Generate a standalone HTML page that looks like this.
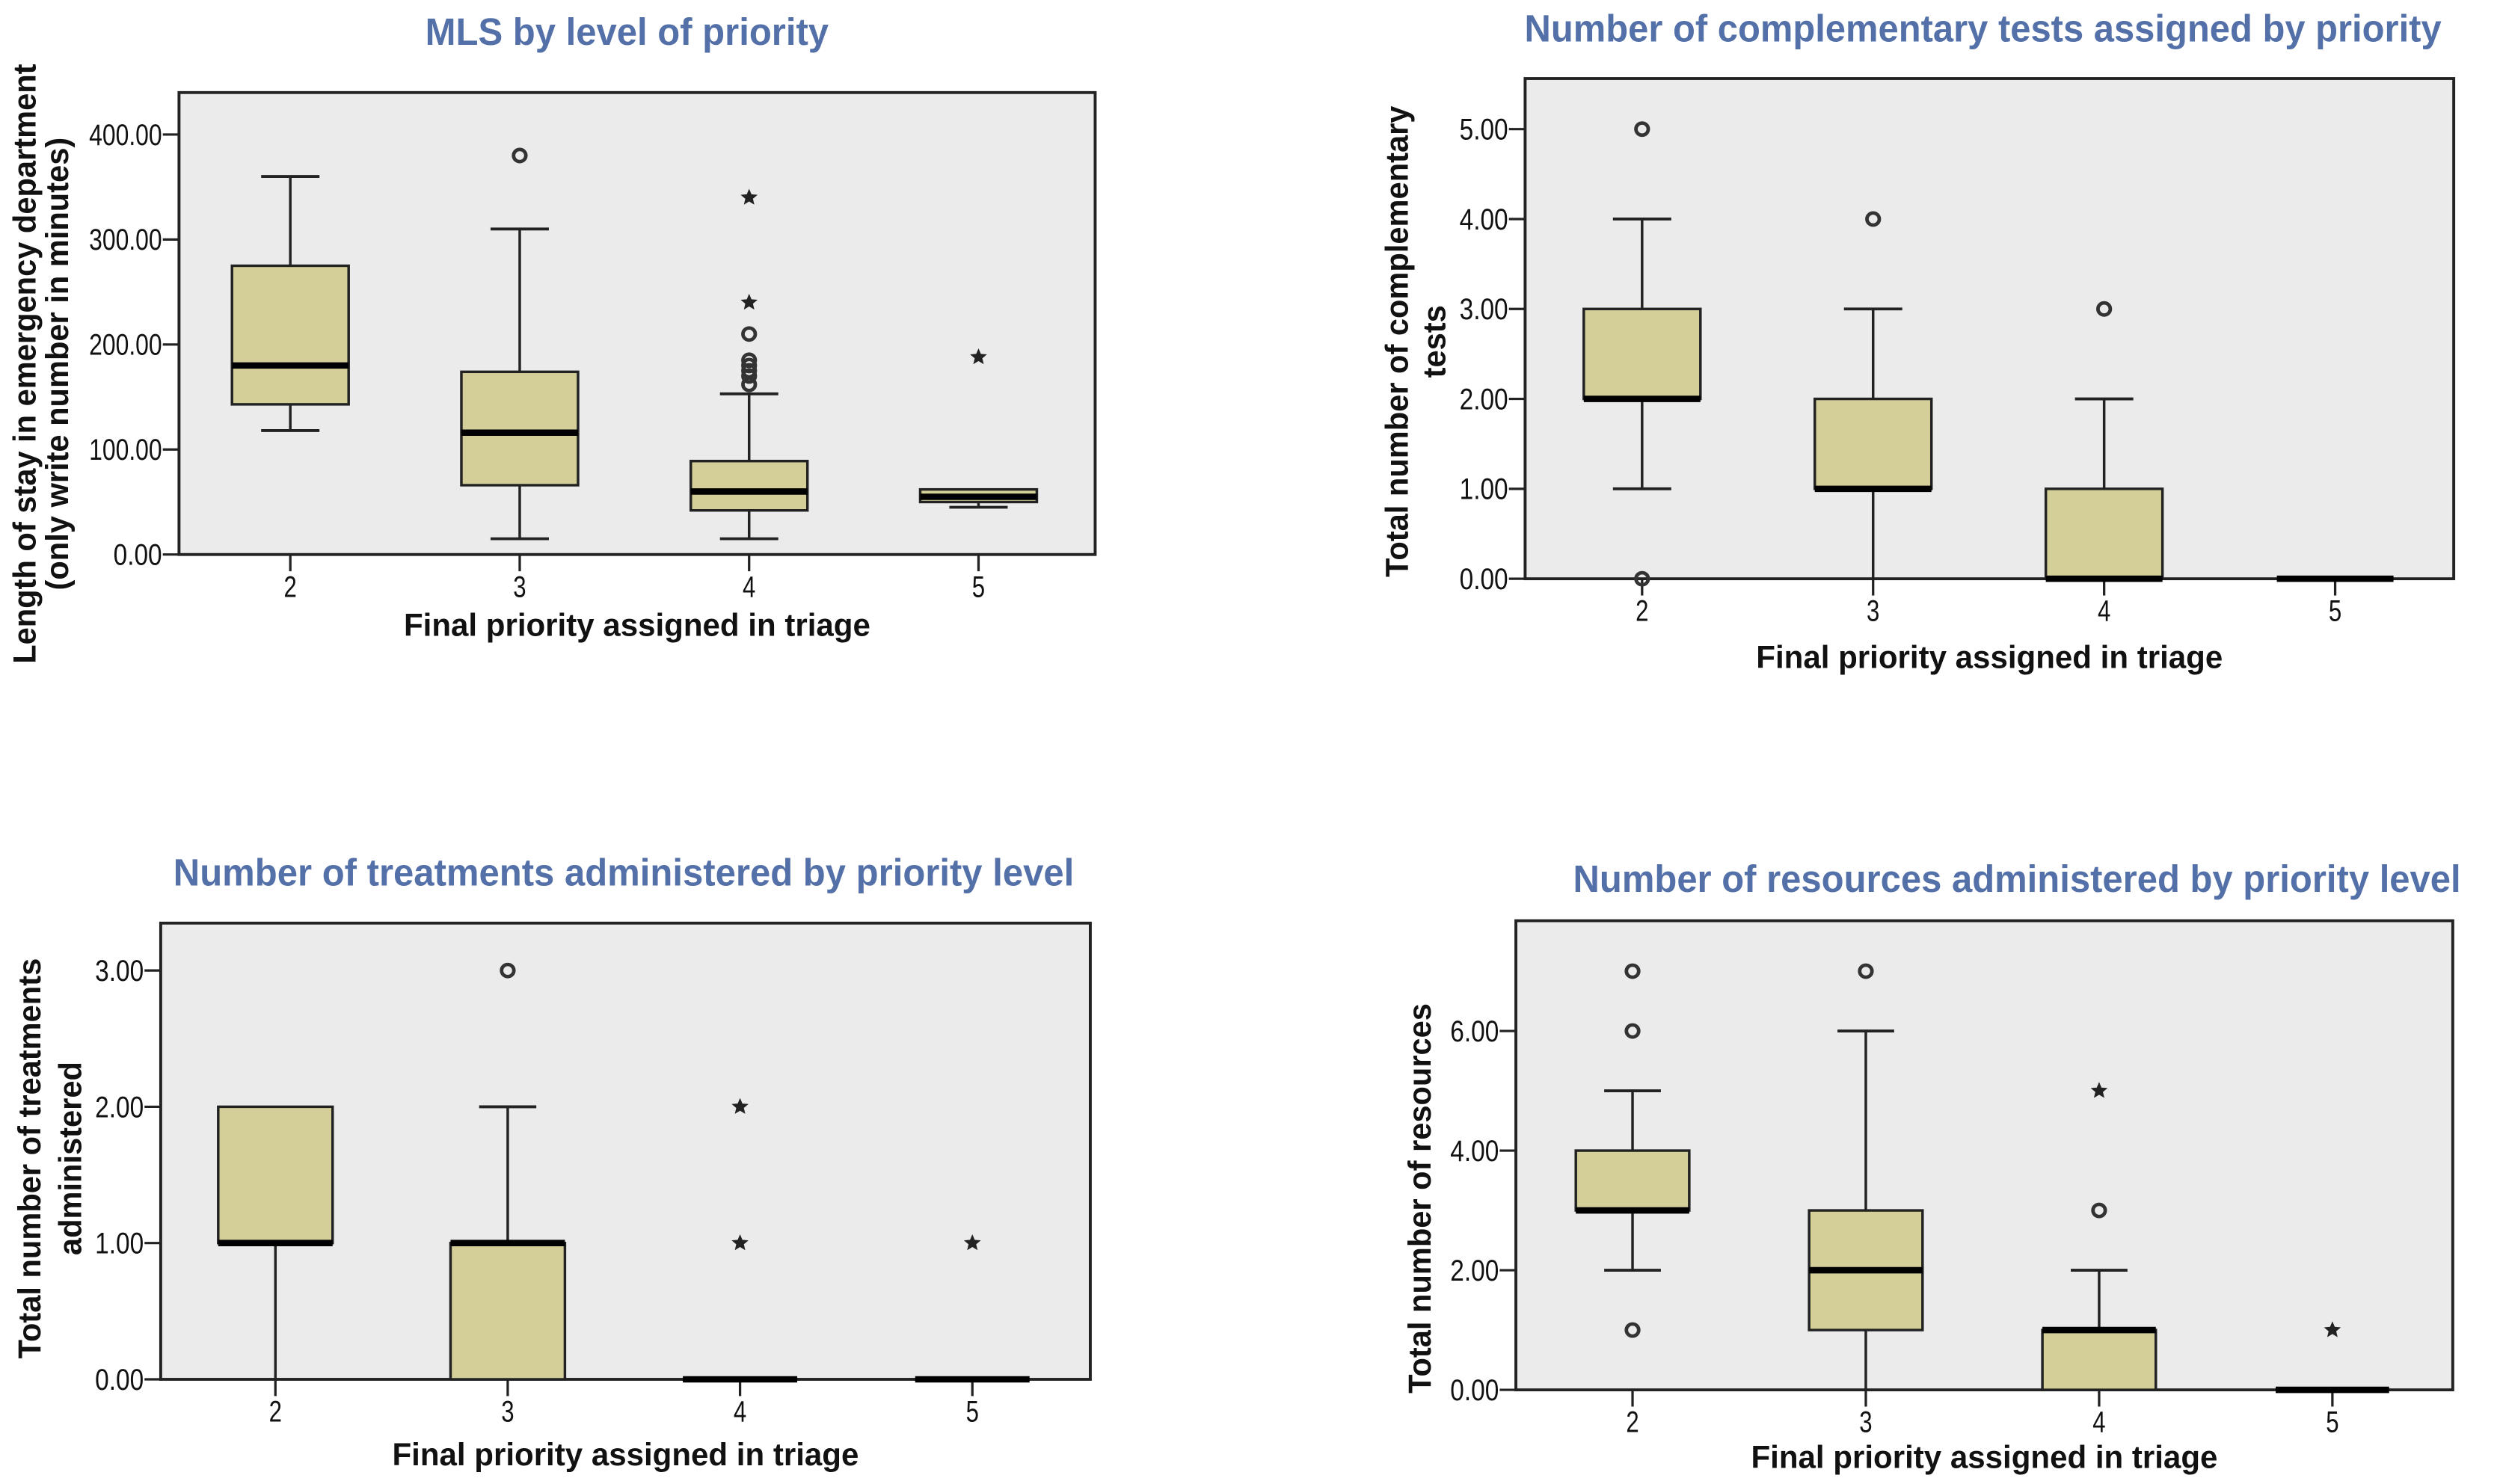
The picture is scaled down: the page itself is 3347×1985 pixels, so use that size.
<!DOCTYPE html>
<html><head><meta charset="utf-8"><style>
html,body{margin:0;padding:0;background:#fff;}
svg{display:block;}
text{font-family:"Liberation Sans",sans-serif;}
</style></head><body>
<svg id="fig" width="3347" height="1985" viewBox="0 0 1545 930" preserveAspectRatio="none" xmlns="http://www.w3.org/2000/svg"></svg>
<script>
const categories = ["2","3","4","5"];
// chart 1: MLS
const c1Low = [118, 15, 15, 45];
const c1Q1 = [143, 66, 42, 50];
const c1Med = [180, 116, 60, 55];
const c1Q3 = [275, 174, 89, 62];
const c1High = [360, 310, 153, 62];
const c1Circles = [[], [380], [210, 185, 180, 175, 170, 162], []];
const c1Stars = [[], [], [340, 240], [188]];
const c1Ticks = ["0.00","100.00","200.00","300.00","400.00"];
const c1TickVals = [0,100,200,300,400];
// chart 2: tests
const c2Low = [1, 0, 0, 0];
const c2Q1 = [2, 1, 0, 0];
const c2Med = [2, 1, 0, 0];
const c2Q3 = [3, 2, 1, 0];
const c2High = [4, 3, 2, 0];
const c2Circles = [[5, 0], [4], [3], []];
const c2Stars = [[], [], [], []];
const c2Ticks = ["0.00","1.00","2.00","3.00","4.00","5.00"];
const c2TickVals = [0,1,2,3,4,5];
// chart 3: treatments
const c3Low = [0, 0, 0, 0];
const c3Q1 = [1, 0, 0, 0];
const c3Med = [1, 1, 0, 0];
const c3Q3 = [2, 1, 0, 0];
const c3High = [2, 2, 0, 0];
const c3Circles = [[], [3], [], []];
const c3Stars = [[], [], [2, 1], [1]];
const c3Ticks = ["0.00","1.00","2.00","3.00"];
const c3TickVals = [0,1,2,3];
// chart 4: resources
const c4Low = [2, 0, 0, 0];
const c4Q1 = [3, 1, 0, 0];
const c4Med = [3, 2, 1, 0];
const c4Q3 = [4, 3, 1, 0];
const c4High = [5, 6, 2, 0];
const c4Circles = [[7, 6, 1], [7], [3], []];
const c4Stars = [[], [], [5], [1]];
const c4Ticks = ["0.00","2.00","4.00","6.00"];
const c4TickVals = [0,2,4,6];

const NS = "http://www.w3.org/2000/svg";
const fig = document.getElementById("fig");
function mk(tag, attrs, parent, txt){
  const e = document.createElementNS(NS, tag);
  for (const k in attrs) e.setAttribute(k, attrs[k]);
  if (txt !== undefined) e.textContent = txt;
  (parent || fig).appendChild(e);
  return e;
}
function starPath(cx, cy, r){
  let d = "";
  for (let i = 0; i < 10; i++){
    const a = -Math.PI/2 + i*Math.PI/5;
    const rr = i%2 ? r*0.45 : r;
    d += (i ? "L" : "M") + (cx + rr*Math.cos(a)).toFixed(2) + " " + (cy + rr*Math.sin(a)).toFixed(2);
  }
  return d + "Z";
}

function drawChart(cfg){
  const g = mk("g", {});
  
  
  const yScale = v => cfg.y0 - v * (cfg.y0 - cfg.yRef) / cfg.refVal;
  const xScale = i => cfg.cx0 + i * cfg.step;
  const t = mk("text", {x: cfg.titleX, y: cfg.titleY, "text-anchor":"middle", "font-size":24, "font-weight":"bold", fill:"#5470a8", textLength: cfg.titleW, lengthAdjust:"spacingAndGlyphs"}, g, cfg.title);
  
  
  const bg = mk("rect", {x: cfg.left, y: cfg.top, width: cfg.right - cfg.left, height: cfg.y0 - cfg.top, fill:"#ebebeb", stroke:"#222", "stroke-width":1.8}, g);
  
  
  cfg.tickVals.forEach((v, i) => {
    const y = yScale(v);
    mk("line", {x1: cfg.left - 10, x2: cfg.left, y1: y, y2: y, stroke:"#222", "stroke-width":1.5}, g);
    const s = cfg.ticks[i];
    const tl = mk("text", {x: cfg.left - 10.5, y: y + 6.5, "text-anchor":"end", "font-size":18.5, fill:"#111", textLength: s.length * 7.5, lengthAdjust:"spacingAndGlyphs"}, g, s);
    
    
  });
  categories.forEach((c, i) => {
    const x = xScale(i);
    mk("line", {x1: x, x2: x, y1: cfg.y0, y2: cfg.y0 + 10.5, stroke:"#222", "stroke-width":1.5}, g);
    const xl = mk("text", {x: x, y: cfg.y0 + 26.5, "text-anchor":"middle", "font-size":18.5, fill:"#111", textLength: 8, lengthAdjust:"spacingAndGlyphs"}, g, c);
    
    
  });
  const xt = mk("text", {x: (cfg.left + cfg.right)/2, y: cfg.y0 + cfg.xlOff, "text-anchor":"middle", "font-size":20, "font-weight":"bold", fill:"#111", textLength: 288, lengthAdjust:"spacingAndGlyphs"}, g, "Final priority assigned in triage");
  
  
  const yt = mk("text", {transform:`translate(${cfg.ylX},${cfg.ylY}) rotate(-90)`, "text-anchor":"middle", "font-size":19.5, "font-weight":"bold", fill:"#111"}, g);
  
  
  cfg.ylab.forEach((s, i) => mk("tspan", {x:0, y: i * cfg.ylSp}, yt, s));
  const hw = cfg.boxW / 2;
  categories.forEach((c, i) => {
    const x = xScale(i);
    const bx = mk("g", {}, g);
    
    
    const lo = yScale(cfg.low[i]), hi = yScale(cfg.high[i]), q1 = yScale(cfg.q1[i]), q3 = yScale(cfg.q3[i]), md = yScale(cfg.med[i]);
    mk("line", {x1:x, x2:x, y1:hi, y2:q3, stroke:"#222", "stroke-width":1.6}, bx);
    mk("line", {x1:x, x2:x, y1:q1, y2:lo, stroke:"#222", "stroke-width":1.6}, bx);
    if (cfg.high[i] > cfg.q3[i]) mk("line", {x1:x - hw/2, x2:x + hw/2, y1:hi, y2:hi, stroke:"#222", "stroke-width":1.8}, bx);
    if (cfg.low[i] < cfg.q1[i] && cfg.low[i] > 0) mk("line", {x1:x - hw/2, x2:x + hw/2, y1:lo, y2:lo, stroke:"#222", "stroke-width":1.8}, bx);
    mk("rect", {x:x - hw, y:q3, width:cfg.boxW, height:Math.max(q1 - q3, 0.01), fill:"#d4cf98", stroke:"#222", "stroke-width":1.6}, bx);
    mk("line", {x1:x - hw, x2:x + hw, y1:md, y2:md, stroke:"#000", "stroke-width":4}, bx);
    cfg.circles[i].forEach(v => {
      const o = mk("circle", {cx:x, cy:yScale(v), r:3.8, fill:"none", stroke:"#333", "stroke-width":2.2}, bx);
      
      
    });
    cfg.stars[i].forEach(v => {
      const s = mk("path", {d: starPath(x, yScale(v), 5.5), fill:"#222"}, bx);
      
      
    });
  });
}

drawChart({name:"chart-mls", title:"MLS by level of priority", titleX:387, titleY:28, titleW:249,
  left:110.5, right:676, top:58, y0:347.5, yRef:84.3, refVal:400, cx0:179.2, step:141.6, boxW:72,
  ticks:c1Ticks, tickVals:c1TickVals, low:c1Low, q1:c1Q1, med:c1Med, q3:c1Q3, high:c1High, circles:c1Circles, stars:c1Stars,
  xlOff:51, ylX:22, ylY:228, ylSp:20, ylab:["Length of stay in emergency department","(only write number in minutes)"]});
drawChart({name:"chart-tests", title:"Number of complementary tests assigned by priority", titleX:1224, titleY:26, titleW:566,
  left:941.4, right:1514.6, top:49.2, y0:362.7, yRef:80.9, refVal:5, cx0:1013.6, step:142.6, boxW:72,
  ticks:c2Ticks, tickVals:c2TickVals, low:c2Low, q1:c2Q1, med:c2Med, q3:c2Q3, high:c2High, circles:c2Circles, stars:c2Stars,
  xlOff:56, ylX:869, ylY:214, ylSp:23, ylab:["Total number of complementary","tests"]});
drawChart({name:"chart-treatments", title:"Number of treatments administered by priority level", titleX:385, titleY:555, titleW:556,
  left:99.2, right:673, top:578.5, y0:864.4, yRef:608.2, refVal:3, cx0:170, step:143.4, boxW:70.6,
  ticks:c3Ticks, tickVals:c3TickVals, low:c3Low, q1:c3Q1, med:c3Med, q3:c3Q3, high:c3High, circles:c3Circles, stars:c3Stars,
  xlOff:54, ylX:25, ylY:726, ylSp:25, ylab:["Total number of treatments","administered"]});
drawChart({name:"chart-resources", title:"Number of resources administered by priority level", titleX:1245, titleY:559, titleW:548,
  left:935.7, right:1514, top:577, y0:871, yRef:646.1, refVal:6, cx0:1007.7, step:144, boxW:70,
  ticks:c4Ticks, tickVals:c4TickVals, low:c4Low, q1:c4Q1, med:c4Med, q3:c4Q3, high:c4High, circles:c4Circles, stars:c4Stars,
  xlOff:49, ylX:883, ylY:751, ylSp:22, ylab:["Total number of resources"]});
</script>
</body></html>
